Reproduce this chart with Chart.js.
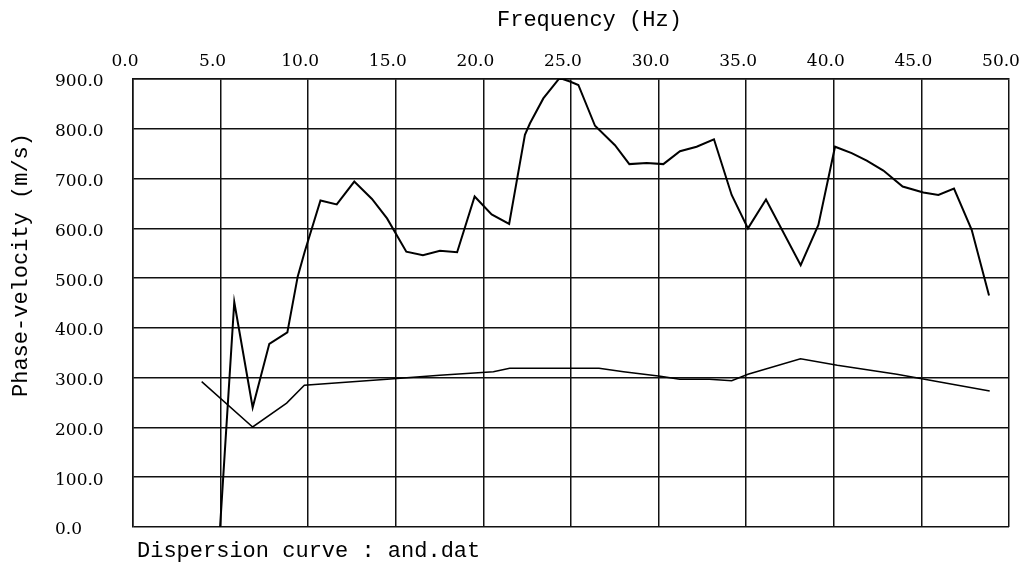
<!DOCTYPE html>
<html>
<head>
<meta charset="utf-8">
<script src="https://cdn.jsdelivr.net/npm/chart.js@4.4.0/dist/chart.umd.min.js"></script>
<style>
  html, body { margin: 0; padding: 0; background: #fff; }
  canvas { display: block; }
</style>
</head>
<body>
<canvas id="curve" width="1025" height="567"></canvas>
<script>
// dispersion curve read from and.dat

const upperFreq = [4.97, 5.78, 6.83, 7.78, 8.81, 9.4, 9.8, 10.7, 11.63, 12.63, 13.64, 14.5, 15.6, 16.55, 17.52, 18.5, 19.5, 20.47, 21.47, 22.37, 22.66, 23.42, 24.35, 24.94, 25.42, 26.37, 27.51, 28.33, 29.32, 30.27, 31.22, 32.17, 33.16, 34.17, 35.1, 36.13, 38.11, 39.12, 40.07, 41.02, 41.88, 42.83, 43.93, 45.11, 45.97, 46.86, 47.87, 48.86];
const upperVel = [0, 452, 240, 368, 391, 503, 553, 656, 648, 694, 659, 620, 553, 546, 555, 552, 664, 628, 609, 788, 811, 861, 902, 895, 888, 806, 767, 729, 731, 729, 755, 764, 779, 667, 600, 658, 526, 607, 764, 751, 736, 716, 684, 672, 667, 680, 597, 465];

const lowerFreq = [3.92, 6.83, 8.77, 9.78, 14.5, 17.5, 20.57, 21.5, 25.5, 26.6, 28.0, 30.1, 31.2, 32.9, 34.17, 35.1, 38.1, 40.2, 43.6, 48.9];
const lowerVel = [292, 201, 249, 285, 297, 305, 312, 319, 319, 319, 312, 303, 297, 297, 294, 307, 338, 325, 307, 273];

const xTitle = 'Frequency (Hz)';
const yTitle = 'Phase-velocity (m/s)';
const caption = 'Dispersion curve : and.dat';

const toPoints = (xs, ys) => xs.map((x, i) => ({ x, y: ys[i] }));

// axis titles and the file caption, drawn in plain monospace
const axisText = {
  id: 'axisText',
  afterDraw(chart) {
    const { ctx, chartArea } = chart;
    ctx.save();
    ctx.fillStyle = '#000';
    ctx.font = '22px "Liberation Mono", monospace';
    ctx.textBaseline = 'alphabetic';
    ctx.textAlign = 'left';
    ctx.fillText(xTitle, chartArea.left + 364, 26);
    ctx.fillText(caption, chartArea.left + 4, chartArea.bottom + 30);
    ctx.translate(27, chartArea.top + 186);
    ctx.rotate(-Math.PI / 2);
    ctx.textAlign = 'center';
    ctx.fillText(yTitle, 0, 0);
    ctx.restore();
  }
};

const tickFont = { family: '"DejaVu Serif", serif', size: 17 };
const gridStyle = { color: '#111', lineWidth: 1.5, drawTicks: false };

new Chart(document.getElementById('curve'), {
  type: 'line',
  data: {
    datasets: [
      {
        data: toPoints(upperFreq, upperVel),
        borderColor: '#000',
        borderWidth: 2,
        pointRadius: 0,
        tension: 0
      },
      {
        data: toPoints(lowerFreq, lowerVel),
        borderColor: '#000',
        borderWidth: 1.5,
        pointRadius: 0,
        tension: 0
      }
    ]
  },
  options: {
    responsive: false,
    animation: false,
    devicePixelRatio: 1,
    layout: { padding: { left: 55, right: 16, top: 0, bottom: 40 } },
    plugins: { legend: { display: false }, tooltip: { enabled: false } },
    scales: {
      x: {
        type: 'linear',
        position: 'top',
        min: 0,
        max: 50,
        grid: gridStyle,
        border: { color: '#111', width: 1.5 },
        ticks: {
          stepSize: 5,
          color: '#000',
          font: tickFont,
          padding: 7,
          labelOffset: -8,
          maxRotation: 0,
          callback: v => v.toFixed(1)
        },
        afterFit(scale) {
          scale.height = 79;
          scale.paddingLeft = 0;
          scale.paddingRight = 0;
        }
      },
      y: {
        min: 0,
        max: 900,
        grid: gridStyle,
        border: { color: '#111', width: 1.5 },
        ticks: {
          stepSize: 100,
          color: '#000',
          font: tickFont,
          crossAlign: 'far',
          labelOffset: 3,
          callback: v => v.toFixed(1)
        },
        afterFit(scale) {
          scale.width = 78;
        }
      }
    }
  },
  plugins: [axisText]
});
</script>
</body>
</html>
